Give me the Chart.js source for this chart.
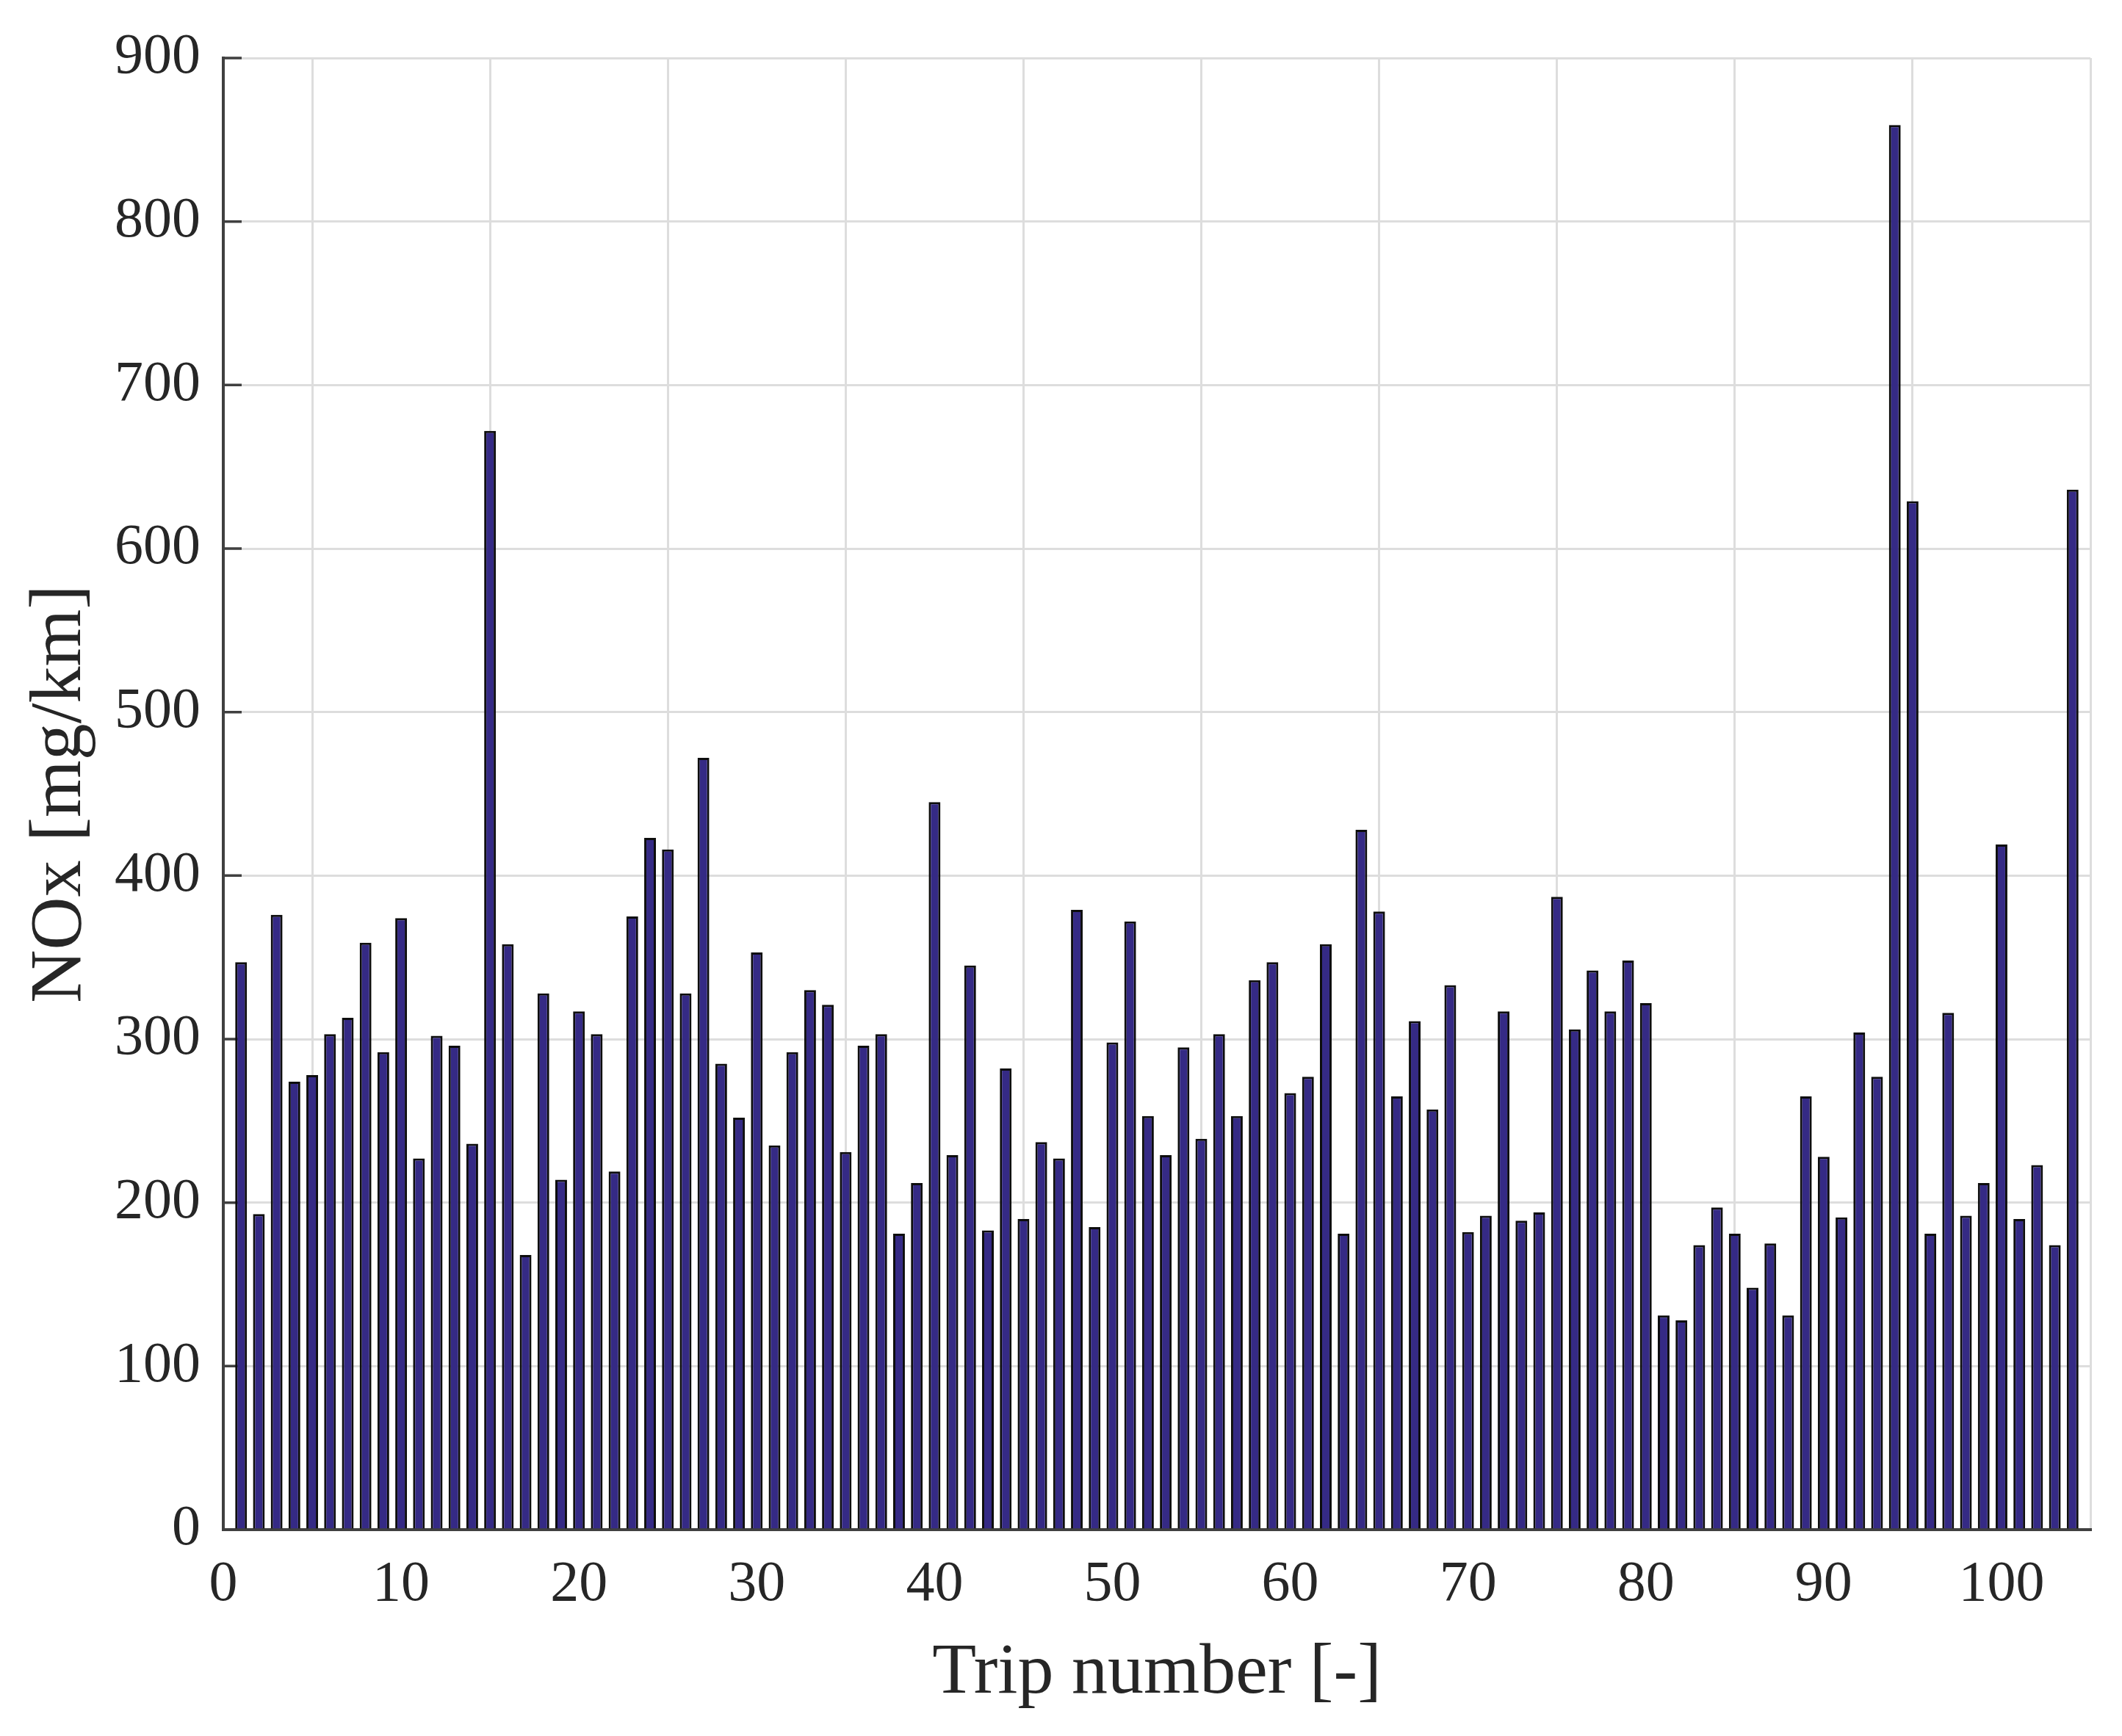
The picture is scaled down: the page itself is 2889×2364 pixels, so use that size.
<!DOCTYPE html>
<html>
<head>
<meta charset="utf-8">
<script src="https://cdn.jsdelivr.net/npm/chart.js@4.4.1/dist/chart.umd.min.js"></script>
<style>
  html, body { margin: 0; padding: 0; background: #ffffff; }
  #wrap { width: 2889px; height: 2364px; position: relative; }
</style>
</head>
<body>
<div id="wrap"><canvas id="c" width="2889" height="2364"></canvas></div>
<script>
// ---- data ----
const trips = [1,2,3,4,5,6,7,8,9,10,11,12,13,14,15,16,17,18,19,20,
  21,22,23,24,25,26,27,28,29,30,31,32,33,34,35,36,37,38,39,40,
  41,42,43,44,45,46,47,48,49,50,51,52,53,54,55,56,57,58,59,60,
  61,62,63,64,65,66,67,68,69,70,71,72,73,74,75,76,77,78,79,80,
  81,82,83,84,85,86,87,88,89,90,91,92,93,94,95,96,97,98,99,100,
  101,102,103,104];
const noxValues = [347,193,376,274,278,303,313,359,292,374,
  227,302,296,236,672,358,168,328,214,317,
  303,219,375,423,416,328,472,285,252,353,
  235,292,330,321,231,296,303,181,212,445,
  229,345,183,282,190,237,227,379,185,298,
  372,253,229,295,239,303,253,336,347,267,
  277,358,181,428,378,265,311,257,333,182,
  192,317,189,194,387,306,342,317,348,322,
  131,128,174,197,181,148,175,131,265,228,
  191,304,277,859,629,181,316,192,212,419,
  190,223,174,636];
const xTickValues = [0,10,20,30,40,50,60,70,80,90,100];
const yTickValues = [0,100,200,300,400,500,600,700,800,900];
const xLabel = 'Trip number [-]';
const yLabel = 'NOx [mg/km]';

// ---- styling ----
const FONT = '"Liberation Serif", "DejaVu Serif", serif';
const TEXT = '#262626';
const AXIS = '#404040';
const GRID = '#dddddd';

const inwardTicks = {
  id: 'inwardTicks',
  beforeDatasetsDraw(chart) {
    const { ctx, chartArea, scales } = chart;
    const x = scales.x, y = scales.y;
    ctx.save();
    ctx.strokeStyle = AXIS;
    ctx.lineWidth = 3.5;
    ctx.beginPath();
    y.ticks.forEach(t => {
      const py = y.getPixelForValue(t.value);
      ctx.moveTo(chartArea.left, py);
      ctx.lineTo(chartArea.left + 25, py);
    });
    x.ticks.forEach(t => {
      const px = x.getPixelForValue(t.value);
      ctx.moveTo(px, chartArea.bottom);
      ctx.lineTo(px, chartArea.bottom - 25);
    });
    ctx.stroke();
    ctx.restore();
  }
};

new Chart(document.getElementById('c'), {
  type: 'bar',
  data: {
    datasets: [{
      data: trips.map((t, i) => ({ x: t, y: noxValues[i] })),
      backgroundColor: '#352a85',
      borderColor: '#0d0d0d',
      borderWidth: 3,
      borderSkipped: 'start',
      barPercentage: 0.66,
      categoryPercentage: 1.0
    }]
  },
  options: {
    responsive: false,
    maintainAspectRatio: false,
    devicePixelRatio: 1,
    animation: false,
    layout: { padding: { top: 79, right: 43, bottom: 0, left: 0 } },
    plugins: { legend: { display: false }, tooltip: { enabled: false } },
    scales: {
      x: {
        type: 'linear',
        min: 0,
        max: 105,
        offset: false,
        afterBuildTicks: (scale) => { scale.ticks = xTickValues.map(v => ({ value: v })); },
        afterFit: (scale) => { scale.height = 281; },
        grid: { color: GRID, lineWidth: 3, drawTicks: false },
        border: { display: true, color: AXIS, width: 4 },
        ticks: {
          padding: 29,
          color: TEXT,
          font: { family: FONT, size: 78 },
          maxRotation: 0,
          autoSkip: false
        },
        title: {
          display: true,
          text: xLabel,
          color: TEXT,
          font: { family: FONT, size: 98 },
          padding: { top: 0, bottom: 26 }
        }
      },
      y: {
        type: 'linear',
        min: 0,
        max: 900,
        afterBuildTicks: (scale) => { scale.ticks = yTickValues.map(v => ({ value: v })); },
        afterFit: (scale) => { scale.width = 304; },
        grid: { color: GRID, lineWidth: 3, drawTicks: false },
        border: { display: true, color: AXIS, width: 4 },
        ticks: {
          padding: 31,
          color: TEXT,
          font: { family: FONT, size: 78 },
          autoSkip: false
        },
        title: {
          display: true,
          text: yLabel,
          color: TEXT,
          font: { family: FONT, size: 100 },
          padding: { top: 23, bottom: 0 }
        }
      }
    }
  },
  plugins: [inwardTicks]
});
</script>
</body>
</html>
